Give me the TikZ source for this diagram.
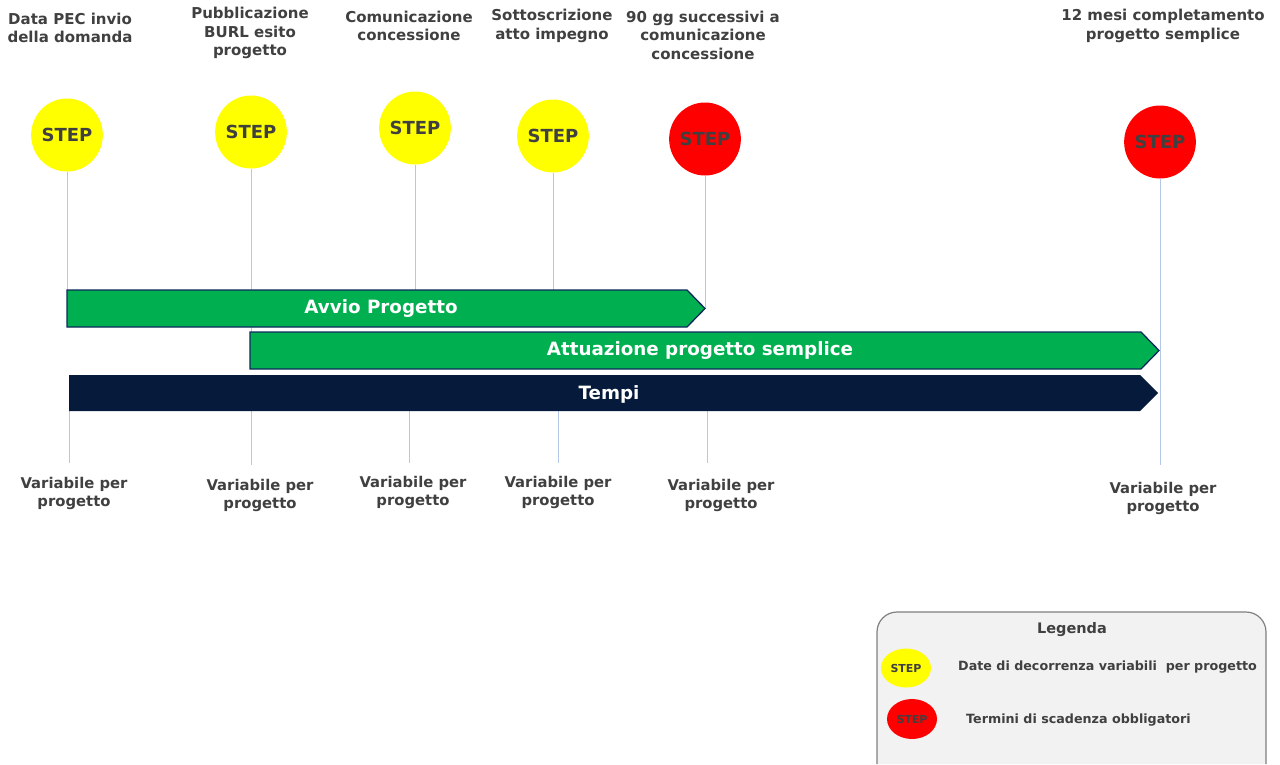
\documentclass[tikz,border=0pt]{standalone}
\usepackage{fontspec}
\setmainfont{DejaVu Sans}
\usetikzlibrary{shapes.geometric}
\definecolor{txtgray}{HTML}{404040}
\definecolor{stepyellow}{HTML}{FFFF00}
\definecolor{stepred}{HTML}{FF0000}
\definecolor{bargreen}{HTML}{00B050}
\definecolor{barnavy}{HTML}{061A3C}
\definecolor{edgenavy}{HTML}{0B2A5C}
\definecolor{tickblue}{HTML}{B4C7E7}
\definecolor{legfill}{HTML}{F2F2F2}
\definecolor{legedge}{HTML}{808080}
\tikzset{
  toplabel/.style={align=center, font=\bfseries\fontsize{15}{18.5}\selectfont, text=txtgray, inner sep=0pt},
  botlabel/.style={align=center, font=\bfseries\fontsize{14.8}{18}\selectfont, text=txtgray, inner sep=0pt},
  stepbox/.style={ellipse, minimum width=71pt, minimum height=73pt, inner sep=0pt, font=\bfseries\fontsize{18}{20}\selectfont, text=txtgray},
  yellowstep/.style={stepbox, fill=stepyellow},
  redstep/.style={stepbox, fill=stepred},
  tickline/.style={draw=tickblue, line width=1pt},
  bartext/.style={text=white, font=\bfseries\fontsize{18.3}{20}\selectfont, inner sep=0pt},
  legtext/.style={text=txtgray, font=\bfseries\fontsize{12.7}{14}\selectfont, inner sep=0pt, anchor=west},
}
\begin{document}
\begin{tikzpicture}[x=1pt,y=-1pt]
\useasboundingbox[fill=white] (0,0) rectangle (1280,764);

% top labels
\node[toplabel] (l1) at (70,28) {Data PEC invio\\della domanda};
\node[toplabel] (l2) at (250,33) {Pubblicazione\\BURL esito\\progetto};
\node[toplabel] (l3) at (409,26) {Comunicazione\\concessione};
\node[toplabel] (l4) at (552,26) {Sottoscrizione\\atto impegno};
\node[toplabel] (l5) at (703,35) {90 gg successivi a\\comunicazione\\concessione};
\node[toplabel] (l6) at (1163,26) {12 mesi completamento\\progetto semplice};

% step circles
\node[yellowstep] (s1) at (67,135) {STEP};
\node[yellowstep] (s2) at (251,132) {STEP};
\node[yellowstep] (s3) at (415,128) {STEP};
\node[yellowstep] (s4) at (553,136) {STEP};
\node[redstep] (s5) at (705,139) {STEP};
\node[redstep] (s6) at (1160,142) {STEP};

% tick coordinates
\coordinate (t1) at (67,290);
\coordinate (t2) at (251,332);
\coordinate (t3) at (415,290);
\coordinate (t4) at (553,290);
\coordinate (t5) at (705,309);
\coordinate (t6) at (1160,465);
\draw[tickline] (s1.south) -- (t1);
\draw[tickline] (s2.south) -- (t2);
\draw[tickline] (s3.south) -- (t3);
\draw[tickline] (s4.south) -- (t4);
\draw[tickline] (s5.south) -- (t5);
\draw[tickline] (s6.south) -- (t6);

% bottom ticks
\coordinate (b1a) at (69,411); \coordinate (b1b) at (69,463);
\coordinate (b2a) at (251,411); \coordinate (b2b) at (251,465);
\coordinate (b3a) at (409,411); \coordinate (b3b) at (409,463);
\coordinate (b4a) at (558,411); \coordinate (b4b) at (558,463);
\coordinate (b5a) at (707,411); \coordinate (b5b) at (707,463);
\draw[tickline] (b1a) -- (b1b);
\draw[tickline] (b2a) -- (b2b);
\draw[tickline] (b3a) -- (b3b);
\draw[tickline] (b4a) -- (b4b);
\draw[tickline] (b5a) -- (b5b);

% bars
\draw[fill=bargreen, draw=edgenavy, line width=1.3pt] (67,290) -- (687,290) -- (705,308.5) -- (687,327) -- (67,327) -- cycle;
\node[bartext] (avvio) at (381,309) {Avvio Progetto};
\draw[fill=bargreen, draw=edgenavy, line width=1.3pt] (250,332) -- (1141,332) -- (1159,350.5) -- (1141,369) -- (250,369) -- cycle;
\node[bartext] (attu) at (700,351) {Attuazione progetto semplice};
\fill[barnavy] (69,375) -- (1140,375) -- (1158,393) -- (1140,411) -- (69,411) -- cycle;
\node[bartext] (tempi) at (609,394) {Tempi};

% bottom labels
\node[botlabel] (v1) at (74,493) {Variabile per\\progetto};
\node[botlabel] (v2) at (260,495) {Variabile per\\progetto};
\node[botlabel] (v3) at (413,492) {Variabile per\\progetto};
\node[botlabel] (v4) at (558,492) {Variabile per\\progetto};
\node[botlabel] (v5) at (721,495) {Variabile per\\progetto};
\node[botlabel] (v6) at (1163,498) {Variabile per\\progetto};

% legend
\draw[fill=legfill, draw=legedge, line width=1.2pt, rounded corners=20pt] (877,764) -- (877,612) -- (1266,612) -- (1266,764);
\node[text=txtgray, font=\bfseries\fontsize{14.5}{16}\selectfont, inner sep=0pt] (leg) at (1072,630) {Legenda};
\node[ellipse, fill=stepyellow, minimum width=50pt, minimum height=39pt, inner sep=0pt, text=txtgray, font=\bfseries\fontsize{11}{12}\selectfont] (ly) at (906,668) {STEP};
\node[ellipse, fill=stepred, minimum width=50pt, minimum height=40pt, inner sep=0pt, text=txtgray, font=\bfseries\fontsize{11}{12}\selectfont] (lr) at (912,719) {STEP};
\node[legtext] (lyt) at (958,667) {Date di decorrenza variabili\ \ per progetto};
\node[legtext] (lrt) at (966,720) {Termini di scadenza obbligatori};
\end{tikzpicture}
\end{document}
